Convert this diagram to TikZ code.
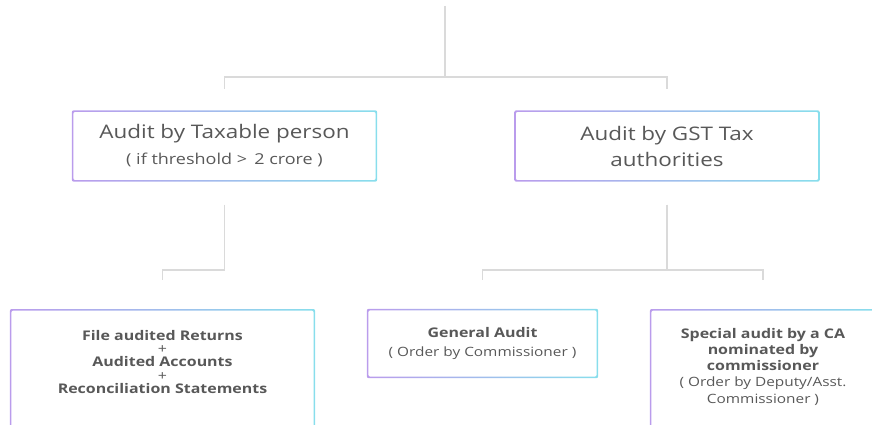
\documentclass[tikz,border=0pt]{standalone}
\usepackage{fontspec}
\setmainfont{Open Sans}[FakeStretch=1.2]

\definecolor{ink}{RGB}{88,88,88}
\definecolor{wire}{RGB}{218,218,218}
\definecolor{edgeL}{RGB}{186,156,236}
\definecolor{edgeR}{RGB}{136,222,236}

\begin{document}
\begin{tikzpicture}[x=1pt, y=-1pt,
  topbox/.style={minimum width=305pt, minimum height=71pt, inner sep=0pt,
                 align=center, text=ink, font=\fontsize{18.7}{26}\selectfont},
  lowbox/.style={inner xsep=0pt, inner ysep=16pt, anchor=north,
                 align=center, text=ink},
  link/.style={draw=wire, line width=1.6pt},
  frame/.style={left color=edgeL, right color=edgeR, even odd rule,
                rounded corners=2pt}
]
  \useasboundingbox (0,0) rectangle (872,425);

  % Upper row
  \node[topbox] at (224.5,146) (ta) {Audit by Taxable person\\
    {\fontsize{15}{26}\selectfont ( if threshold > \,2 crore )}};
  \node[topbox] at (667,146)   (tb) {Audit by GST Tax\\authorities};

  % Lower row
  \node[lowbox, minimum width=305pt, inner ysep=21pt, text depth=110pt,
        font=\fontsize{13.3}{13.3}\bfseries] at (162.5,309) (fc)
    {File audited Returns\\{\mdseries +}\\
     Audited Accounts\\{\mdseries +}\\
     Reconciliation Statements};
  \node[lowbox, minimum width=231pt, minimum height=69pt, inner ysep=0pt,
        anchor=center, font=\fontsize{12.8}{19}\selectfont] at (482.5,343.5) (ga)
    {{\fontsize{13.3}{19}\bfseries General Audit}\\( Order by Commissioner )};
  \node[lowbox, minimum width=226pt, inner ysep=19pt, text depth=110pt,
        font=\fontsize{12.8}{16.2}\selectfont] at (763,309) (sp)
    {{\fontsize{13.3}{16.2}\bfseries Special audit by a CA}\\
     {\fontsize{13.3}{16.2}\bfseries nominated by}\\
     {\fontsize{13.3}{16.2}\bfseries commissioner}\\
     ( Order by Deputy/Asst.\\Commissioner )};

  % Gradient frames
  \foreach \n in {ta,tb,fc,ga,sp}
    \shade[frame] (\n.north west) rectangle (\n.south east)
      ([shift={(1.5,1.5)}]\n.north west) rectangle ([shift={(-1.5,-1.5)}]\n.south east);

  % Top split
  \coordinate (root) at (445,6);
  \draw[link, shorten >=21pt] (root) -- ++(0,71) -| (ta.north);
  \draw[link, shorten >=21pt] (root) -- ++(0,71) -| (tb.north);

  % Branches below the upper row
  \draw[link, shorten <=23pt, shorten >=29pt] (ta.south) -- ++(0,88) -| (fc.north);
  \draw[link, shorten <=23pt, shorten >=29pt] (tb.south) -- ++(0,88) -| (ga.north);
  \draw[link, shorten <=23pt, shorten >=29pt] (tb.south) -- ++(0,88) -| (sp.north);

\end{tikzpicture}
\end{document}
